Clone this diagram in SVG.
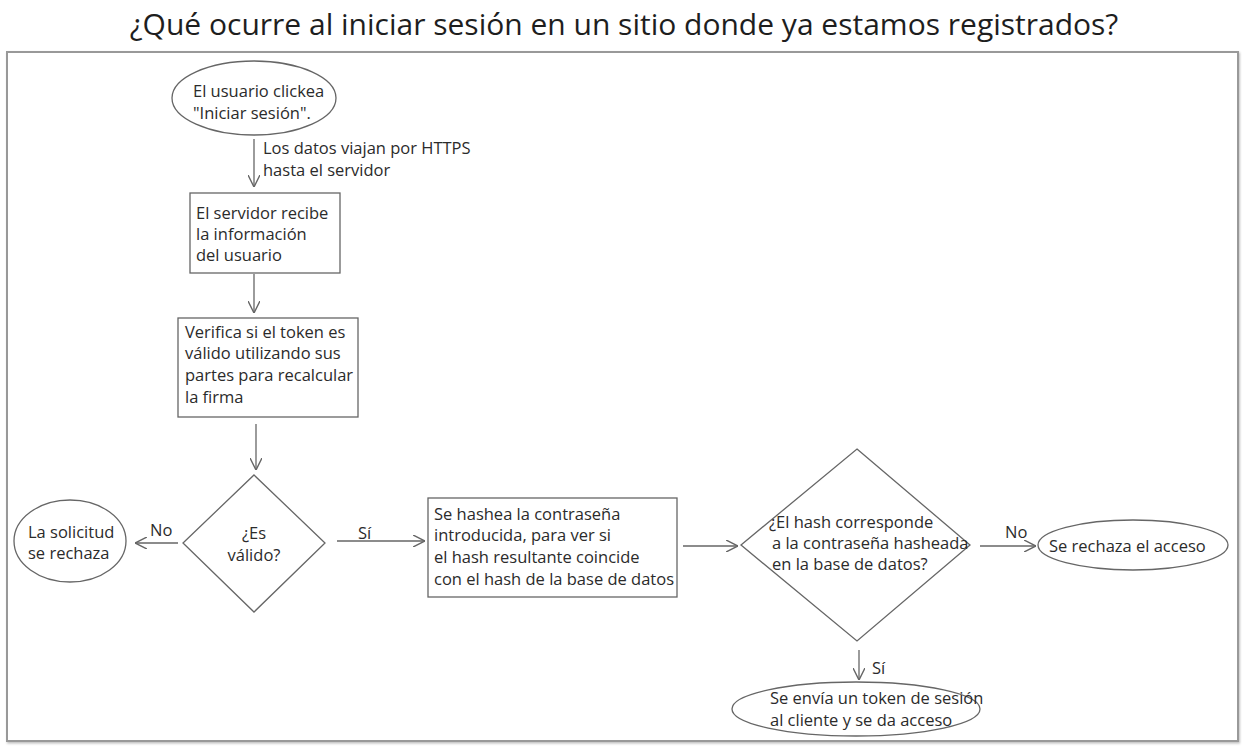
<svg xmlns="http://www.w3.org/2000/svg" width="1248" height="749" viewBox="0 0 1248 749">
<defs>
<marker id="arr" markerWidth="12" markerHeight="12" refX="10" refY="5" orient="auto" markerUnits="userSpaceOnUse" viewBox="0 0 10 10">
<path d="M0,0 L10,5 L0,10" fill="none" stroke="#666" stroke-width="1.2"/>
</marker>
<filter id="sh" x="-2%" y="-2%" width="104%" height="104%">
<feDropShadow dx="1" dy="1.5" stdDeviation="1" flood-color="#000" flood-opacity="0.25"/>
</filter>
</defs>
<style>
text{font-family:"Open Sans","Noto Sans","Liberation Sans",sans-serif;font-size:16.5px;fill:#2b2b2b}
.title{font-size:30px;fill:#1e1e1e}
.shape{fill:#fff;stroke:#666;stroke-width:1.3}
.conn line{stroke:#666;stroke-width:1.3;marker-end:url(#arr)}
.mid{text-anchor:middle}
</style>
<rect width="1248" height="749" fill="#fff"/>
<text class="title mid" x="624" y="35">¿Qué ocurre al iniciar sesión en un sitio donde ya estamos registrados?</text>
<rect x="7" y="52" width="1231" height="689" fill="#fff" stroke="#999" stroke-width="2" filter="url(#sh)"/>

<g id="connectors" class="conn">
<line x1="254" y1="139" x2="254" y2="187"/>
<line x1="254" y1="274" x2="254" y2="313"/>
<line x1="256" y1="424" x2="256" y2="470"/>
<line x1="178" y1="543" x2="135" y2="543"/>
<line x1="337" y1="541" x2="425" y2="541"/>
<line x1="683" y1="546" x2="738" y2="546"/>
<line x1="980" y1="546" x2="1036" y2="546"/>
<line x1="859" y1="650" x2="859" y2="680"/>
</g>
<g id="connector-labels">
<text x="263" y="154">Los datos viajan por HTTPS</text>
<text x="263" y="176">hasta el servidor</text>
<text x="150" y="536">No</text>
<text x="358" y="539">Sí</text>
<text x="1005" y="538">No</text>
<text x="872" y="674">Sí</text>
</g>

<g id="start">
<ellipse class="shape" cx="254" cy="98" rx="82" ry="37"/>
<text x="193" y="97">El usuario clickea</text>
<text x="193" y="119">"Iniciar sesión".</text>
</g>
<g id="recibe">
<rect class="shape" x="190" y="193" width="150" height="80"/>
<text x="196" y="219">El servidor recibe</text>
<text x="196" y="240">la información</text>
<text x="196" y="261">del usuario</text>
</g>
<g id="verifica">
<rect class="shape" x="178" y="318" width="180" height="99"/>
<text x="185" y="338">Verifica si el token es</text>
<text x="185" y="359">válido utilizando sus</text>
<text x="185" y="381">partes para recalcular</text>
<text x="185" y="403">la firma</text>
</g>
<g id="valido">
<polygon class="shape" points="254,475 325,543 254,612 183,543"/>
<text class="mid" x="254" y="539">¿Es</text>
<text class="mid" x="254" y="561">válido?</text>
</g>
<g id="rechaza-solicitud">
<ellipse class="shape" cx="70" cy="541" rx="56" ry="41"/>
<text x="28" y="538">La solicitud</text>
<text x="28" y="559">se rechaza</text>
</g>
<g id="hashea">
<rect class="shape" x="428" y="498" width="249" height="99"/>
<text x="434" y="520">Se hashea la contraseña</text>
<text x="434" y="541">introducida, para ver si</text>
<text x="434" y="563">el hash resultante coincide</text>
<text x="434" y="585">con el hash de la base de datos</text>
</g>
<g id="corresponde">
<polygon class="shape" points="857,449 970,545 857,641 741,545"/>
<text x="769" y="528">¿El hash corresponde</text>
<text x="772" y="549">a la contraseña hasheada</text>
<text x="772" y="570">en la base de datos?</text>
</g>
<g id="rechaza-acceso">
<ellipse class="shape" cx="1133" cy="545" rx="95" ry="25"/>
<text x="1049" y="552">Se rechaza el acceso</text>
</g>
<g id="acceso">
<ellipse class="shape" cx="856" cy="709" rx="124" ry="27"/>
<text x="770" y="704">Se envía un token de sesión</text>
<text x="770" y="726">al cliente y se da acceso</text>
</g>
</svg>
